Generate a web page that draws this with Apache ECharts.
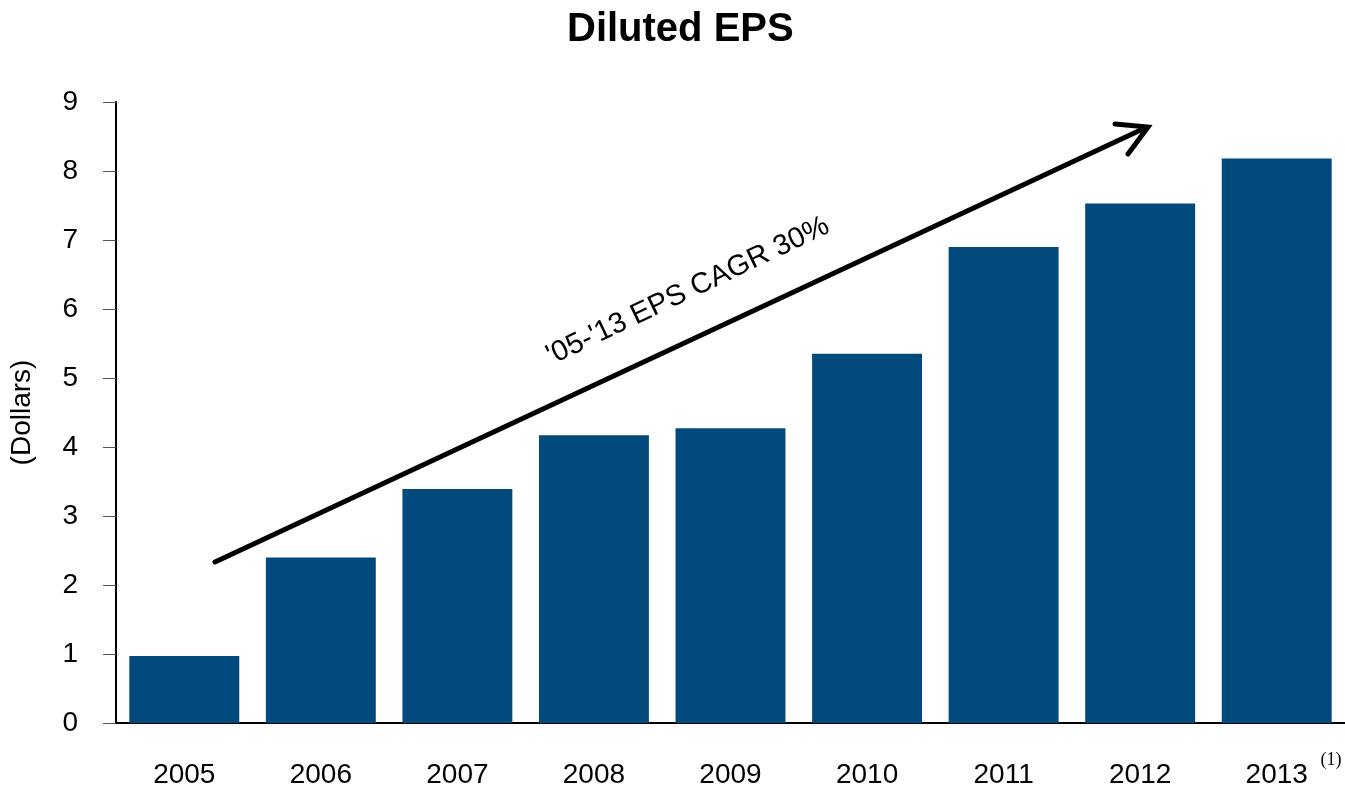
<!DOCTYPE html>
<html>
<head>
<meta charset="utf-8">
<script src="https://cdn.jsdelivr.net/npm/echarts@6/dist/echarts.min.js"></script>
<style>html,body{margin:0;padding:0;background:#fff;}#c{width:1345px;height:791px;}</style>
</head>
<body>
<div id="c"></div>
<script>
const categories = ['2005','2006','2007','2008','2009','2010','2011','2012','2013'];
const eps = [0.97, 2.40, 3.39, 4.17, 4.27, 5.35, 6.90, 7.53, 8.18];
const yTicks = [0,1,2,3,4,5,6,7,8,9];

const chart = echarts.init(document.getElementById('c'));
const font = 'Liberation Sans, Arial, sans-serif';
chart.setOption({
  animation: false,
  title: {
    text: 'Diluted EPS', left: 562, top: 5,
    textStyle: {fontFamily: font, fontSize: 40, fontWeight: 'bold', color: '#000'}
  },
  grid: {left: 116, right: 0, top: 102, bottom: 68},
  xAxis: {
    type: 'category', data: categories,
    axisLine: {lineStyle: {color: '#000', width: 2}},
    axisTick: {alignWithLabel: true, length: 13, lineStyle: {color: '#333', width: 1}},
    axisLabel: {fontFamily: font, fontSize: 28, color: '#000', margin: 38}
  },
  yAxis: {
    type: 'value', min: yTicks[0], max: yTicks[yTicks.length-1], interval: 1,
    name: '(Dollars)', nameLocation: 'middle', nameGap: 80, nameRotate: 90,
    nameTextStyle: {fontFamily: font, fontSize: 28, color: '#000'},
    axisLine: {show: true, lineStyle: {color: '#000', width: 2}},
    axisTick: {show: true, length: 13, lineStyle: {color: '#555', width: 1}},
    axisLabel: {fontFamily: font, fontSize: 28, color: '#000', margin: 38},
    splitLine: {show: false}
  },
  series: [{
    type: 'bar', data: eps, barCategoryGap: '19.5%',
    itemStyle: {color: '#02497D'}
  }],
  graphic: [
    {type: 'line', shape: {x1: 215, y1: 562, x2: 1145, y2: 128},
     style: {stroke: '#000', lineWidth: 5, lineCap: 'round'}},
    {type: 'polyline', shape: {points: [[1115, 124], [1148, 127], [1128, 154]]},
     style: {stroke: '#000', lineWidth: 5, fill: null, lineCap: 'round', lineJoin: 'miter'}},
    {type: 'text', x: 688, y: 291, rotation: 25.5 * Math.PI / 180,
     style: {text: "'05-'13 EPS CAGR 30%", font: '29px ' + font, fill: '#000', textAlign: 'center', textVerticalAlign: 'middle'}},
    {type: 'text', x: 1331, y: 760,
     style: {text: '(1)', font: '18px Liberation Serif, Times New Roman, serif', fill: '#000', textAlign: 'center', textVerticalAlign: 'middle'}}
  ]
});
</script>
</body>
</html>
